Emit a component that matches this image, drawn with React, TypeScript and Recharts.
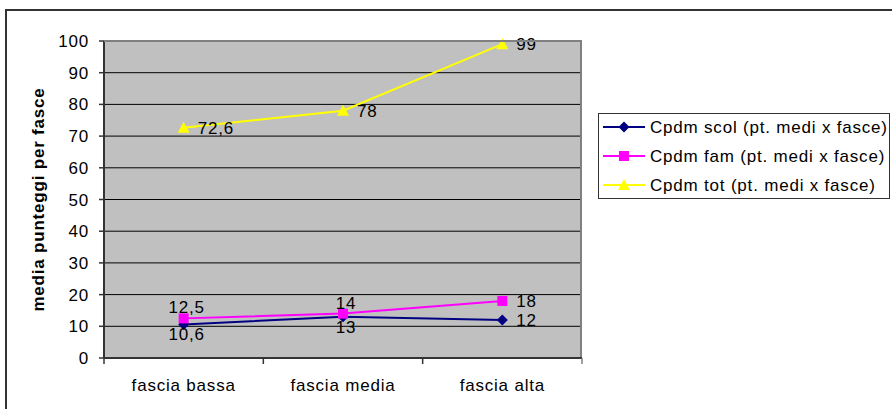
import { LineChart, Line, XAxis, YAxis, CartesianGrid, LabelList } from 'recharts';

const categories = ['fascia bassa', 'fascia media', 'fascia alta'];
const scol = [10.6, 13, 12];
const fam = [12.5, 14, 18];
const tot = [72.6, 78, 99];
const yTicks = [0, 10, 20, 30, 40, 50, 60, 70, 80, 90, 100];

const seriesNames = {
  scol: 'Cpdm scol (pt. medi x fasce)',
  fam: 'Cpdm fam (pt. medi x fasce)',
  tot: 'Cpdm tot (pt. medi x fasce)',
};

const data = categories.map((name, i) => ({ name, scol: scol[i], fam: fam[i], tot: tot[i] }));

// plot box
const W = 892;
const H = 409;
const PLOT_LEFT = 104;
const PLOT_TOP = 41;
const PLOT_RIGHT = 582;
const PLOT_BOTTOM = 358;
const Y_AXIS_W = 60;
const X_AXIS_H = 30;
const BAND = (PLOT_RIGHT - PLOT_LEFT) / categories.length;

const FONT = '"Liberation Sans", Arial, sans-serif';
const textStyle = { fontFamily: FONT, fontSize: 17, letterSpacing: 0.8, fill: '#000' };

const NAVY = '#000080';
const MAGENTA = '#ff00ff';
const YELLOW = '#ffff00';

// where each value label sits relative to its point
const labelPlacement: Record<string, string[]> = {
  scol: ['below', 'below', 'right'],
  fam: ['above', 'above', 'right'],
  tot: ['right', 'right', 'right'],
};

const fmt = (v: number) => String(v).replace('.', ',');

function makeLabel(key: string) {
  return (props: any) => {
    const { x, y, value, index } = props;
    const where = labelPlacement[key][index];
    const txt = fmt(value);
    if (where === 'right') {
      return (
        <text x={x + 14} y={y} dy="0.36em" textAnchor="start" style={textStyle}>
          {txt}
        </text>
      );
    }
    if (where === 'above') {
      return (
        <text x={x + 3} y={y - 5} textAnchor="middle" style={textStyle}>
          {txt}
        </text>
      );
    }
    return (
      <text x={x + 3} y={y + 16} textAnchor="middle" style={textStyle}>
        {txt}
      </text>
    );
  };
}

const Diamond = ({ cx, cy, color }: any) => (
  <polygon points={`${cx},${cy - 5.5} ${cx + 5.5},${cy} ${cx},${cy + 5.5} ${cx - 5.5},${cy}`} fill={color} />
);
const Square = ({ cx, cy, color }: any) => (
  <rect x={cx - 5} y={cy - 5} width={10} height={10} fill={color} />
);
const Triangle = ({ cx, cy, color }: any) => (
  <polygon points={`${cx},${cy - 6} ${cx + 6},${cy + 5} ${cx - 6},${cy + 5}`} fill={color} />
);

const XTick = (props: any) => {
  const { x, y, payload, index } = props;
  const left = x - BAND / 2;
  return (
    <g>
      <line x1={left} x2={left} y1={PLOT_BOTTOM} y2={PLOT_BOTTOM + 6} stroke="#333" strokeWidth={1.5} />
      {index === categories.length - 1 && (
        <line x1={x + BAND / 2} x2={x + BAND / 2} y1={PLOT_BOTTOM} y2={PLOT_BOTTOM + 6} stroke="#808080" strokeWidth={1.5} />
      )}
      <text x={x} y={y} dy="0.71em" textAnchor="middle" style={textStyle}>
        {payload.value}
      </text>
    </g>
  );
};

const YLabel = () => (
  <text
    x={38}
    y={(PLOT_TOP + PLOT_BOTTOM) / 2}
    transform={`rotate(-90 38 ${(PLOT_TOP + PLOT_BOTTOM) / 2})`}
    textAnchor="middle"
    dominantBaseline="central"
    style={{ ...textStyle, fontWeight: 'bold' }}
  >
    media punteggi per fasce
  </text>
);

const legendItems = [
  { name: seriesNames.scol, color: NAVY, Mark: Diamond },
  { name: seriesNames.fam, color: MAGENTA, Mark: Square },
  { name: seriesNames.tot, color: YELLOW, Mark: Triangle },
];

export default function App() {
  return (
    <div style={{ position: 'absolute', left: 0, top: 0, width: W, height: H, overflow: 'hidden', background: '#fff' }}>
      {/* chart area frame, runs off the right and bottom */}
      <div style={{ position: 'absolute', left: 5, top: 9, width: 1000, height: 1000, border: '2px solid #333' }} />

      <div style={{ position: 'absolute', left: 0, top: 0 }}>
        <LineChart
          width={W}
          height={H}
          data={data}
          margin={{ top: PLOT_TOP, right: W - PLOT_RIGHT, bottom: H - PLOT_BOTTOM - X_AXIS_H, left: PLOT_LEFT - Y_AXIS_W }}
        >
          <CartesianGrid vertical={false} stroke="#000" fill="#c0c0c0" fillOpacity={1} />
          <XAxis
            dataKey="name"
            scale="band"
            height={X_AXIS_H}
            stroke="#333"
            strokeWidth={2}
            tickLine={false}
            tickSize={6}
            tickMargin={15}
            tick={<XTick />}
            interval={0}
          />
          <YAxis
            domain={[0, 100]}
            ticks={yTicks}
            width={Y_AXIS_W}
            stroke="#333"
            strokeWidth={2}
            tickSize={5}
            tickMargin={10}
            tick={{ ...textStyle }}
            tickLine={{ stroke: '#333', strokeWidth: 1.5 }}
            label={{ content: () => <YLabel /> }}
            interval={0}
          />
          <Line
            dataKey="tot"
            name={seriesNames.tot}
            stroke={YELLOW}
            strokeWidth={2}
            isAnimationActive={false}
            dot={(p: any) => <Triangle key={p.index} cx={p.cx} cy={p.cy} color={YELLOW} />}
          >
            <LabelList dataKey="tot" content={makeLabel('tot')} />
          </Line>
          <Line
            dataKey="scol"
            name={seriesNames.scol}
            stroke={NAVY}
            strokeWidth={2}
            isAnimationActive={false}
            dot={(p: any) => <Diamond key={p.index} cx={p.cx} cy={p.cy} color={NAVY} />}
          >
            <LabelList dataKey="scol" content={makeLabel('scol')} />
          </Line>
          <Line
            dataKey="fam"
            name={seriesNames.fam}
            stroke={MAGENTA}
            strokeWidth={2}
            isAnimationActive={false}
            dot={(p: any) => <Square key={p.index} cx={p.cx} cy={p.cy} color={MAGENTA} />}
          >
            <LabelList dataKey="fam" content={makeLabel('fam')} />
          </Line>
        </LineChart>
      </div>

      {/* plot border on top and right */}
      <div
        style={{
          position: 'absolute',
          left: PLOT_LEFT,
          top: PLOT_TOP - 1,
          width: PLOT_RIGHT - PLOT_LEFT,
          height: PLOT_BOTTOM - PLOT_TOP,
          borderTop: '2px solid #808080',
          borderRight: '2px solid #808080',
          boxSizing: 'border-box',
          pointerEvents: 'none',
        }}
      />

      {/* legend */}
      <div
        style={{
          position: 'absolute',
          left: 598,
          top: 113,
          width: 292,
          height: 86,
          border: '1.5px solid #333',
          boxSizing: 'border-box',
          background: '#fff',
        }}
      >
        <svg width={292} height={86} style={{ position: 'absolute', left: -1.5, top: -1.5 }}>
          {legendItems.map((it, i) => {
            const cy = 14 + i * 29;
            const Mark = it.Mark;
            return (
              <g key={it.name}>
                <line x1={5} x2={47} y1={cy} y2={cy} stroke={it.color} strokeWidth={2} />
                <Mark cx={26} cy={cy} color={it.color} />
                <text x={52} y={cy} dy="0.36em" style={textStyle}>
                  {it.name}
                </text>
              </g>
            );
          })}
        </svg>
      </div>
    </div>
  );
}
